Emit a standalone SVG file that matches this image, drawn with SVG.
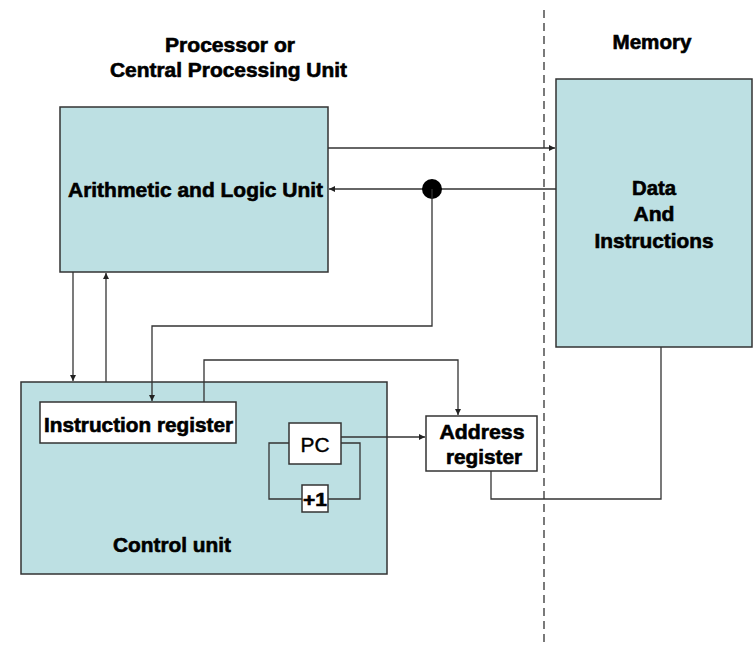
<svg xmlns="http://www.w3.org/2000/svg" width="756" height="647" viewBox="0 0 756 647">
<defs>
<marker id="arr" viewBox="0 0 10 10" refX="10" refY="5" markerWidth="6" markerHeight="6" markerUnits="userSpaceOnUse" orient="auto">
<path d="M0,0 L10,5 L0,10 Z" fill="#222"/>
</marker>
</defs>
<style>
.box{fill:#bde0e3;stroke:#333;stroke-width:1.5}
.wbox{fill:#fff;stroke:#333;stroke-width:1.5}
.ln{fill:none;stroke:#333;stroke-width:1.3}
.t{font-family:"Liberation Sans",Arial,sans-serif;font-weight:bold;fill:#000;stroke:#000;stroke-width:0.6;text-anchor:middle}
.n{font-weight:normal;stroke-width:0.4}
</style>
<rect width="756" height="647" fill="#fff"/>
<line x1="544" y1="10" x2="544" y2="647" stroke="#333" stroke-width="1.3" stroke-dasharray="8,5"/>
<g id="title-cpu">
<text class="t" x="230" y="52" font-size="20" textLength="130" lengthAdjust="spacingAndGlyphs">Processor or</text>
<text class="t" x="228.5" y="77" font-size="20" textLength="237" lengthAdjust="spacingAndGlyphs">Central Processing Unit</text>
</g>
<g id="title-memory">
<text class="t" x="652" y="49" font-size="20" textLength="79" lengthAdjust="spacingAndGlyphs">Memory</text>
</g>
<g id="alu">
<rect class="box" x="60" y="107" width="268" height="165"/>
<text class="t" x="195.5" y="197" font-size="21" textLength="255" lengthAdjust="spacingAndGlyphs">Arithmetic and Logic Unit</text>
</g>
<g id="memory">
<rect class="box" x="556" y="79" width="196" height="268"/>
<text class="t" x="654" y="195" font-size="20" textLength="44" lengthAdjust="spacingAndGlyphs">Data</text>
<text class="t" x="654" y="221" font-size="20" textLength="41" lengthAdjust="spacingAndGlyphs">And</text>
<text class="t" x="654" y="248" font-size="20" textLength="119" lengthAdjust="spacingAndGlyphs">Instructions</text>
</g>
<g id="control-unit">
<rect class="box" x="21" y="382" width="366" height="192"/>
<text class="t" x="172" y="552" font-size="21" textLength="118" lengthAdjust="spacingAndGlyphs">Control unit</text>
</g>
<g id="instruction-register">
<rect class="wbox" x="40" y="402" width="196" height="41"/>
<text class="t" x="138.5" y="432" font-size="20" textLength="189" lengthAdjust="spacingAndGlyphs">Instruction register</text>
</g>
<g id="pc">
<rect class="wbox" x="289" y="423" width="52" height="41"/>
<text class="t n" x="315" y="452" font-size="21" textLength="29" lengthAdjust="spacingAndGlyphs">PC</text>
</g>
<g id="plus1">
<rect class="wbox" x="302" y="485" width="26" height="27"/>
<text class="t" x="315" y="506" font-size="19" textLength="24" lengthAdjust="spacingAndGlyphs">+1</text>
</g>
<g id="address-register">
<rect class="wbox" x="426" y="416" width="111" height="55"/>
<text class="t" x="482" y="439" font-size="20" textLength="85" lengthAdjust="spacingAndGlyphs">Address</text>
<text class="t" x="484" y="464" font-size="20" textLength="76" lengthAdjust="spacingAndGlyphs">register</text>
</g>
<g id="connectors">
<line class="ln" x1="328" y1="148" x2="555" y2="148" marker-end="url(#arr)"/>
<line class="ln" x1="556" y1="189" x2="329" y2="189" marker-end="url(#arr)"/>
<circle cx="432" cy="189" r="10" fill="#000"/>
<polyline class="ln" points="432,189 432,326 152,326 152,401" marker-end="url(#arr)"/>
<polyline class="ln" points="204,402 204,360 458,360 458,415" marker-end="url(#arr)"/>
<line class="ln" x1="73" y1="272" x2="73" y2="381" marker-end="url(#arr)"/>
<line class="ln" x1="106" y1="382" x2="106" y2="273" marker-end="url(#arr)"/>
<polyline class="ln" points="289,443 269,443 269,499 302,499"/>
<polyline class="ln" points="341,443 360,443 360,499 328,499"/>
<line class="ln" x1="341" y1="437" x2="425" y2="437" marker-end="url(#arr)"/>
<polyline class="ln" points="491,471 491,499 661,499 661,347"/>
</g>
</svg>
